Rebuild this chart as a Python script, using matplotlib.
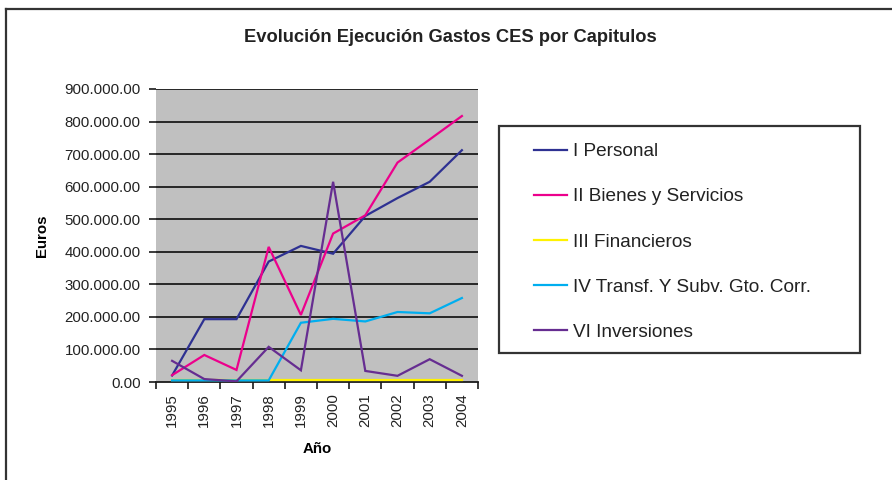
import matplotlib
matplotlib.use("Agg")
import matplotlib.pyplot as plt
from matplotlib.lines import Line2D
from matplotlib.patches import Rectangle

plt.rcParams['font.family'] = ['Liberation Sans', 'DejaVu Sans']

# -----------------------------
# data
# -----------------------------
years = ["1995", "1996", "1997", "1998", "1999", "2000", "2001", "2002", "2003", "2004"]

personal = [20000, 193000, 193000, 370000, 418000, 394000, 510000, 565000, 615000, 712000]
bienes = [21000, 83000, 37000, 415000, 206000, 456000, 512000, 674000, 745000, 817000]
financieros = [6000, 6000, 6000, 6000, 6000, 6000, 6000, 6000, 6000, 6000]
transf = [5000, 5000, 5000, 5000, 182000, 194000, 186000, 215000, 211000, 258000]
inversiones = [65000, 9000, 2000, 108000, 36000, 615000, 34000, 19000, 70000, 19000]

labels = ["I Personal", "II Bienes y Servicios", "III Financieros",
          "IV Transf. Y Subv. Gto. Corr.", "VI Inversiones"]
colors = ["#2E3192", "#EC008C", "#FFF200", "#00AEEF", "#662D91"]
yticks = [0, 100000, 200000, 300000, 400000, 500000, 600000, 700000, 800000, 900000]

W, H = 892, 480
fig = plt.figure(figsize=(W / 100, H / 100), dpi=100)
ax = fig.add_axes([156 / W, 1 - 382 / H, (478 - 156) / W, (382 - 89) / H])
ax.set_facecolor("#C0C0C0")

x = list(range(len(years)))
series = [personal, bienes, financieros, transf, inversiones]
for vals, lab, col in zip(series, labels, colors):
    ax.plot(x, vals, color=col, lw=1.6, label=lab, solid_joinstyle="miter", zorder=3)

# y axis
ax.set_ylim(0, 900000)
ax.set_yticks(yticks)
ax.set_yticklabels([f"{v:,.2f}".replace(",", ".") for v in yticks], fontsize=10.8, color="#222222")
for v in yticks[1:]:
    ax.axhline(v, color="#1a1a1a", lw=1.3, zorder=1)

# x axis: categories sit between the tick marks
ax.set_xlim(-0.5, len(years) - 0.5)
ax.set_xticks(x)
ax.set_xticklabels(years, rotation=90, fontsize=10.8, color="#222222")
ax.set_xticks([i - 0.5 for i in range(len(years) + 1)], minor=True)
ax.tick_params(axis="x", which="major", length=0, pad=8)
ax.tick_params(axis="x", which="minor", length=5, width=1.2, color="#1a1a1a", direction="out")
ax.tick_params(axis="y", length=5, width=1.2, color="#1a1a1a", pad=6)

for s in ["top", "right", "left"]:
    ax.spines[s].set_visible(False)
ax.spines["bottom"].set_color("#1a1a1a")
ax.spines["bottom"].set_linewidth(1.3)
ax.spines["bottom"].set_zorder(2)

ax.set_xlabel("Año", fontsize=10.8, fontweight="bold", labelpad=11)
ax.set_ylabel("Euros", fontsize=10.8, fontweight="bold", labelpad=11)

fig.text(450 / W, 1 - 37 / H, "Evolución Ejecución Gastos CES por Capitulos",
         ha="center", va="center", fontsize=13.2, fontweight="bold", color="#222222")

# legend box drawn separately, entries placed inside it
fig.add_artist(Rectangle((499 / W, 1 - 353 / H), (860 - 499) / W, (353 - 126) / H,
                         transform=fig.transFigure, facecolor="white",
                         edgecolor="#333333", lw=1.6, zorder=2))
leg = fig.legend(loc="upper left", bbox_to_anchor=(534 / W, 1 - 143 / H),
                 fontsize=13.7, frameon=False,
                 handlelength=1.75, handletextpad=0.3, labelspacing=1.46,
                 borderpad=0, borderaxespad=0)
leg.set_zorder(3)
for t in leg.get_texts():
    t.set_color("#222222")

# outer chart border (cropped at right and bottom)
fig.add_artist(Line2D([6 / W, 6 / W], [0, 1 - 9 / H], color="#333333", lw=1.6, transform=fig.transFigure))
fig.add_artist(Line2D([6 / W, 1], [1 - 9 / H, 1 - 9 / H], color="#333333", lw=1.6, transform=fig.transFigure))

fig.savefig("out.png", dpi=100)
